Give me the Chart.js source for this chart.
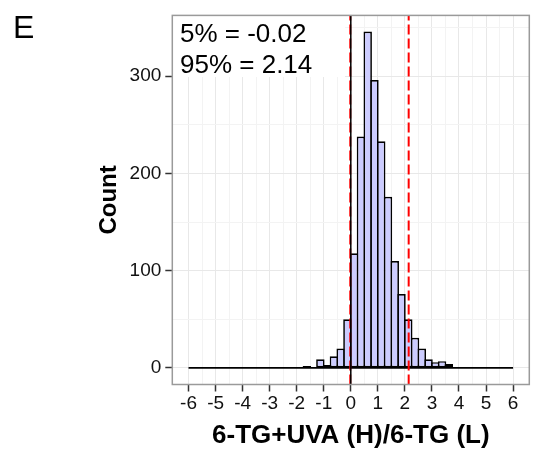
<!DOCTYPE html>
<html lang="en">
<head>
<meta charset="UTF-8">
<title>Histogram E</title>
<script src="https://cdn.jsdelivr.net/npm/chart.js"></script>
<style>
  html, body { margin: 0; padding: 0; background: #fff; }
  #wrap { width: 535px; height: 451px; }
</style>
</head>
<body>
<div id="wrap"><canvas id="histChart"></canvas></div>
<script>
// histogram bins (left edges, width 0.25) and counts
const binWidth = 0.25;
const binStarts = [
  -6.00, -5.75, -5.50, -5.25, -5.00, -4.75, -4.50, -4.25,
  -4.00, -3.75, -3.50, -3.25, -3.00, -2.75, -2.50, -2.25,
  -2.00, -1.75, -1.50, -1.25, -1.00, -0.75, -0.50, -0.25,
   0.00,  0.25,  0.50,  0.75,  1.00,  1.25,  1.50,  1.75,
   2.00,  2.25,  2.50,  2.75,  3.00,  3.25,  3.50,  3.75,
   4.00,  4.25,  4.50,  4.75,  5.00,  5.25,  5.50,  5.75
];
const counts = [
    0,   0,   0,   0,   0,   0,   0,   0,
    0,   0,   0,   1,   0,   0,   1,   0,
    0,   2,   1,   9,   3,  12,  20,  50,
  118, 238, 346, 296, 233, 176, 110,  76,
   50,  31,  20,   9,   6,   7,   4,   0,
    0,   0,   0,   0,   0,   0,   0,   0
];
const xTicks = [-6, -5, -4, -3, -2, -1, 0, 1, 2, 3, 4, 5, 6];
const yTicks = [0, 100, 200, 300];
const refLine = 0;
const quantiles = [-0.02, 2.14];
const quantileLabels = ['5% = -0.02', '95% = 2.14'];

const xMin = -6.6, xMax = 6.6;
const yMin = -17, yMax = 362.5;

const centers = binStarts.map(b => b + binWidth / 2);
const barData = centers.map((c, i) => ({ x: c, y: counts[i] }));

// grid at major ticks plus halfway minor lines
const xGrid = [];
xTicks.forEach((t, i) => { xGrid.push(t); if (i < xTicks.length - 1) xGrid.push(t + 0.5); });
const yGrid = [];
yTicks.forEach(t => { yGrid.push(t); yGrid.push(t + 50); });

const isMajorX = c => !!(c.tick && Number.isInteger(c.tick.value));
const isMajorY = c => !!(c.tick && c.tick.value % 100 === 0);

const FONT = '"Liberation Sans", Arial, sans-serif';
const barBorder = 1.7;

const panelPlugin = {
  id: 'panel',
  afterDatasetsDraw(chart) {
    const { ctx, chartArea: a } = chart;
    ctx.save();
    // label box
    ctx.fillStyle = '#ffffff';
    ctx.fillRect(a.left, a.top, 345 - a.left, 77 - a.top);
    ctx.fillStyle = '#000';
    ctx.font = '26px ' + FONT;
    ctx.textBaseline = 'alphabetic';
    ctx.textAlign = 'left';
    ctx.fillText(quantileLabels[0], 180, 41.7);
    ctx.fillText(quantileLabels[1], 180, 73.3);
    // panel border
    ctx.strokeStyle = '#9a9a9a';
    ctx.lineWidth = 1.5;
    ctx.strokeRect(a.left, a.top, a.right - a.left, a.bottom - a.top);
    ctx.restore();
  },
  afterDraw(chart) {
    const ctx = chart.ctx;
    ctx.save();
    ctx.fillStyle = '#000';
    ctx.font = '32px ' + FONT;
    ctx.textBaseline = 'alphabetic';
    ctx.fillText('E', 13, 38.3);
    ctx.restore();
  }
};

const ctx = document.getElementById('histChart').getContext('2d');
new Chart(ctx, {
  type: 'bar',
  data: {
    datasets: [
      {
        type: 'bar',
        data: barData,
        backgroundColor: '#ccccff',
        borderColor: '#000000',
        borderWidth: barBorder,
        borderSkipped: false,
        // slightly wider than the bin so neighbouring outlines coincide
        barPercentage: 1.25,
        categoryPercentage: 1,
        grouped: false,
        order: 4
      },
      {
        type: 'line',
        data: [{ x: binStarts[0], y: 0 }, { x: binStarts[binStarts.length - 1] + binWidth, y: 0 }],
        borderColor: '#000000',
        borderWidth: 1.7,
        pointRadius: 0,
        order: 3
      },
      {
        type: 'line',
        data: [{ x: quantiles[0], y: yMin }, { x: quantiles[0], y: yMax }],
        borderColor: '#ff0000',
        borderWidth: 2,
        borderDash: [10, 4],
        pointRadius: 0,
        order: 2
      },
      {
        type: 'line',
        data: [{ x: quantiles[1], y: yMin }, { x: quantiles[1], y: yMax }],
        borderColor: '#ff0000',
        borderWidth: 2,
        borderDash: [10, 4],
        pointRadius: 0,
        order: 1
      },
      {
        type: 'line',
        data: [{ x: refLine, y: yMin }, { x: refLine, y: yMax }],
        borderColor: '#000000',
        borderWidth: 1.5,
        pointRadius: 0,
        order: 0
      }
    ]
  },
  options: {
    responsive: true,
    maintainAspectRatio: false,
    animation: false,
    layout: { padding: { top: 11, right: 5.7, left: 0, bottom: 0 } },
    plugins: { legend: { display: false }, tooltip: { enabled: false } },
    scales: {
      x: {
        type: 'linear',
        offset: false,
        min: xMin,
        max: xMax,
        afterBuildTicks: s => { s.ticks = xGrid.map(v => ({ value: v })); },
        afterFit: s => { s.height = 66.5; },
        ticks: {
          autoSkip: false,
          maxRotation: 0,
          padding: 1,
          color: '#111',
          font: { family: FONT, size: 19 },
          callback: v => (Number.isInteger(v) ? String(v) : '')
        },
        grid: {
          offset: false,
          color: c => (isMajorX(c) ? '#e8e8e8' : '#f3f3f3'),
          lineWidth: 1,
          tickLength: 7,
          tickWidth: 1.5,
          tickColor: c => (isMajorX(c) ? '#333' : 'rgba(0,0,0,0)')
        },
        border: { display: false },
        title: {
          display: true,
          text: '6-TG+UVA (H)/6-TG (L)',
          color: '#000',
          font: { family: FONT, size: 26, weight: 'bold' },
          padding: { top: 0, bottom: 0 }
        }
      },
      y: {
        type: 'linear',
        min: yMin,
        max: yMax,
        afterBuildTicks: s => { s.ticks = yGrid.map(v => ({ value: v })); },
        afterFit: s => { s.width = 172.3; },
        ticks: {
          padding: 4,
          color: '#111',
          font: { family: FONT, size: 19 },
          callback: v => (v % 100 === 0 ? String(v) : '')
        },
        grid: {
          color: c => (isMajorY(c) ? '#e8e8e8' : '#f3f3f3'),
          lineWidth: 1,
          tickLength: 7,
          tickWidth: 1.5,
          tickColor: c => (isMajorY(c) ? '#333' : 'rgba(0,0,0,0)')
        },
        border: { display: false },
        title: {
          display: true,
          text: 'Count',
          color: '#000',
          font: { family: FONT, size: 24, weight: 'bold' },
          padding: { top: 95, bottom: 0 }
        }
      }
    }
  },
  plugins: [panelPlugin]
});
</script>
</body>
</html>
